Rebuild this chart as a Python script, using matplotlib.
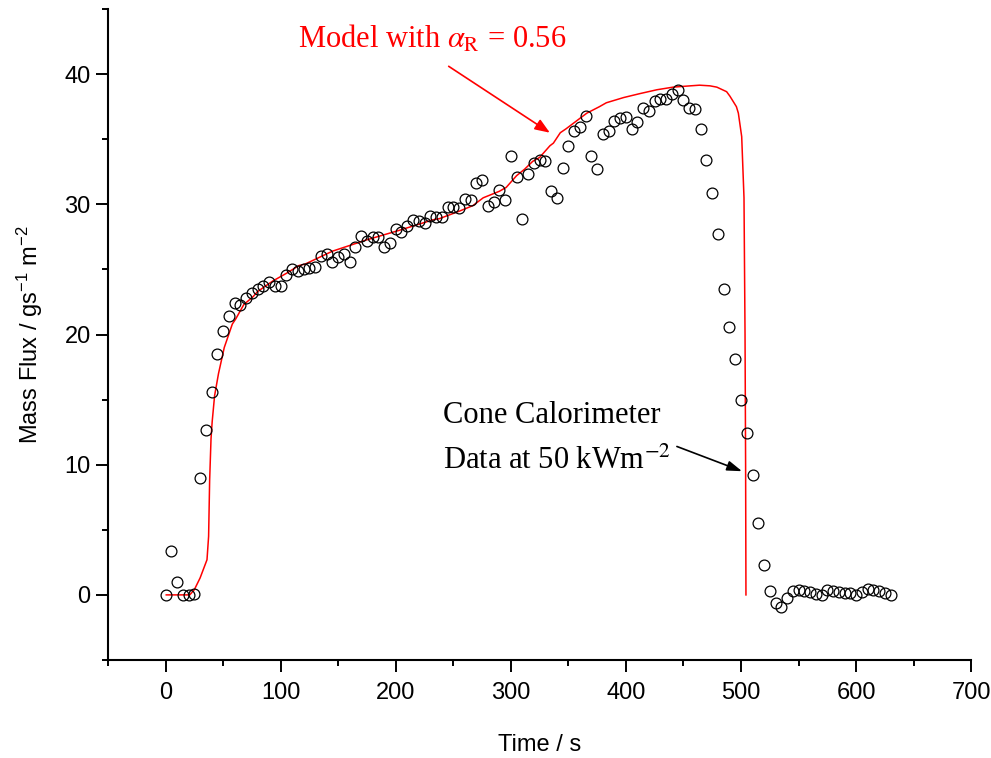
import matplotlib
matplotlib.use("Agg")
import matplotlib.pyplot as plt
from matplotlib.ticker import MultipleLocator

# ---- data: cone calorimeter measurements (open circles) ----
time_s = [0, 5, 10, 15, 20, 25, 30, 35, 40, 45, 50, 55, 60, 65, 70, 75, 80, 85, 90, 95,
          100, 105, 110, 115, 120, 125, 130, 135, 140, 145, 150, 155, 160, 165, 170, 175,
          180, 185, 190, 195, 200, 205, 210, 215, 220, 225, 230, 235, 240, 245, 250, 255,
          260, 265, 270, 275, 280, 285, 290, 295, 300, 305, 310, 315, 320, 325, 330, 335,
          340, 345, 350, 355, 360, 365, 370, 375, 380, 385, 390, 395, 400, 405, 410, 415,
          420, 425, 430, 435, 440, 445, 450, 455, 460, 465, 470, 475, 480, 485, 490, 495,
          500, 505, 510, 515, 520, 525, 530, 535, 540, 545, 550, 555, 560, 565, 570, 575,
          580, 585, 590, 595, 600, 605, 610, 615, 620, 625, 630]
mass_flux = [0.0, 3.4, 1.0, 0.0, 0.0, 0.1, 9.0, 12.7, 15.6, 18.5, 20.3, 21.4, 22.4, 22.3,
             22.8, 23.2, 23.5, 23.75, 24.0, 23.7, 23.7, 24.6, 25.05, 24.9, 25.0, 25.1, 25.2,
             26.0, 26.2, 25.6, 25.95, 26.15, 25.6, 26.7, 27.6, 27.2, 27.5, 27.5, 26.7, 27.0,
             28.1, 27.9, 28.3, 28.8, 28.7, 28.6, 29.1, 29.0, 29.0, 29.8, 29.8, 29.7, 30.4,
             30.3, 31.6, 31.9, 29.9, 30.2, 31.1, 30.3, 33.7, 32.1, 28.9, 32.3, 33.2, 33.4,
             33.3, 31.0, 30.5, 32.8, 34.5, 35.6, 35.9, 36.8, 33.7, 32.7, 35.4, 35.6, 36.4,
             36.6, 36.7, 35.8, 36.3, 37.4, 37.2, 37.9, 38.1, 38.1, 38.5, 38.8, 38.0, 37.4,
             37.3, 35.8, 33.4, 30.9, 27.7, 23.5, 20.6, 18.1, 15.0, 12.4, 9.2, 5.5, 2.3, 0.33,
             -0.6, -0.95, -0.25, 0.3, 0.4, 0.3, 0.23, 0.08, 0.0, 0.4, 0.3, 0.23, 0.18, 0.13,
             0.0, 0.2, 0.45, 0.38, 0.33, 0.18, 0.03]

# ---- model curve (red line) ----
model_t = [0.6, 10, 21, 25, 30, 36, 37.4, 38.3, 39.5, 40.5, 42.6, 44, 46, 51, 58, 61, 68,
           76, 80, 93, 105, 116, 121, 145, 174, 203, 232, 238, 256, 267, 276, 290, 296,
           305, 312, 319, 325, 334, 337, 343, 348, 360, 366, 377, 383, 398, 412, 427, 441,
           456, 464, 473, 479, 487.5, 490.4, 496, 497.7, 500.6, 502.6, 503.5, 504, 504.3]
model_v = [0.0, 0.0, 0.0, 0.4, 1.3, 2.7, 4.5, 8.8, 12.0, 13.3, 15.3, 16.0, 17.0, 19.0,
           20.8, 21.2, 22.3, 22.9, 23.3, 24.1, 24.7, 25.3, 25.4, 26.4, 27.25, 28.0, 28.8,
           28.9, 29.5, 29.9, 30.5, 31.0, 31.3, 32.2, 32.7, 33.3, 33.6, 34.5, 34.7, 35.5,
           35.8, 36.6, 37.0, 37.5, 37.8, 38.2, 38.5, 38.8, 39.0, 39.1, 39.15, 39.1, 39.0,
           38.65, 38.3, 37.5, 37.0, 35.2, 30.5, 20.0, 10.0, 0.0]

x_ticks = [0, 100, 200, 300, 400, 500, 600, 700]
y_ticks = [0, 10, 20, 30, 40]

SANS = ["Liberation Sans Narrow", "Liberation Sans", "DejaVu Sans"]
SERIF = ["Liberation Serif", "DejaVu Serif"]

plt.rcParams["mathtext.fontset"] = "custom"
plt.rcParams["mathtext.rm"] = "Liberation Sans"
plt.rcParams["mathtext.it"] = "Liberation Sans:italic"

fig = plt.figure(figsize=(9.91, 7.58), dpi=100)
ax = fig.add_axes([0.109, 0.1293, 0.871, 0.8588])

ax.plot(model_t, model_v, color="red", lw=1.1, zorder=2)
ax.plot(time_s, mass_flux, linestyle="none", marker="o", markersize=7.8,
        markerfacecolor="none", markeredgecolor="black", markeredgewidth=0.9, zorder=3)

ax.set_xlim(-50, 700)
ax.set_ylim(-5, 45)
ax.set_xticks(x_ticks)
ax.set_yticks(y_ticks)
ax.xaxis.set_minor_locator(MultipleLocator(50))
ax.yaxis.set_minor_locator(MultipleLocator(5))

for s in ["top", "right"]:
    ax.spines[s].set_visible(False)
for s in ["left", "bottom"]:
    ax.spines[s].set_linewidth(1.5)

ax.tick_params(which="major", direction="out", length=8.5, width=1.4, pad=7)
ax.tick_params(which="minor", direction="out", length=4.3, width=1.4)
ax.tick_params(axis="y", which="major", pad=4)
for lab in ax.get_xticklabels() + ax.get_yticklabels():
    lab.set_fontfamily(SANS)
    lab.set_fontsize(17)

ax.set_xlabel("Time / s", fontfamily=["Liberation Sans"], fontsize=17, labelpad=22)
ax.set_ylabel("Mass Flux / gs$^{-1}$ m$^{-2}$", fontfamily=["Liberation Sans"],
              fontsize=17, labelpad=14)

# red annotation
ax.text(114.8, 42.0, r"Model with $\alpha_{\mathrm{R}}$ = 0.56", color="red",
        fontfamily=SERIF, fontsize=22, math_fontfamily="stix", ha="left", va="baseline")
ax.annotate("", xy=(333.9, 35.5), xytext=(246, 40.6),
            arrowprops=dict(arrowstyle="-|>,head_length=0.9,head_width=0.35",
                            color="red", lw=1.2, shrinkA=0, shrinkB=0))

# black annotation
ax.text(240.9, 13.2, "Cone Calorimeter", color="black", fontfamily=SERIF, fontsize=22,
        ha="left", va="baseline")
ax.text(240.9, 9.7, "Data at 50 kWm$^{\\mathrm{-2}}$", color="black", fontfamily=SERIF,
        fontsize=22, math_fontfamily="stix", ha="left", va="baseline")
ax.annotate("", xy=(500.9, 9.5), xytext=(444.3, 11.4),
            arrowprops=dict(arrowstyle="-|>,head_length=0.9,head_width=0.3",
                            color="black", lw=1.2, shrinkA=0, shrinkB=0))

fig.savefig("out.png", dpi=100)
